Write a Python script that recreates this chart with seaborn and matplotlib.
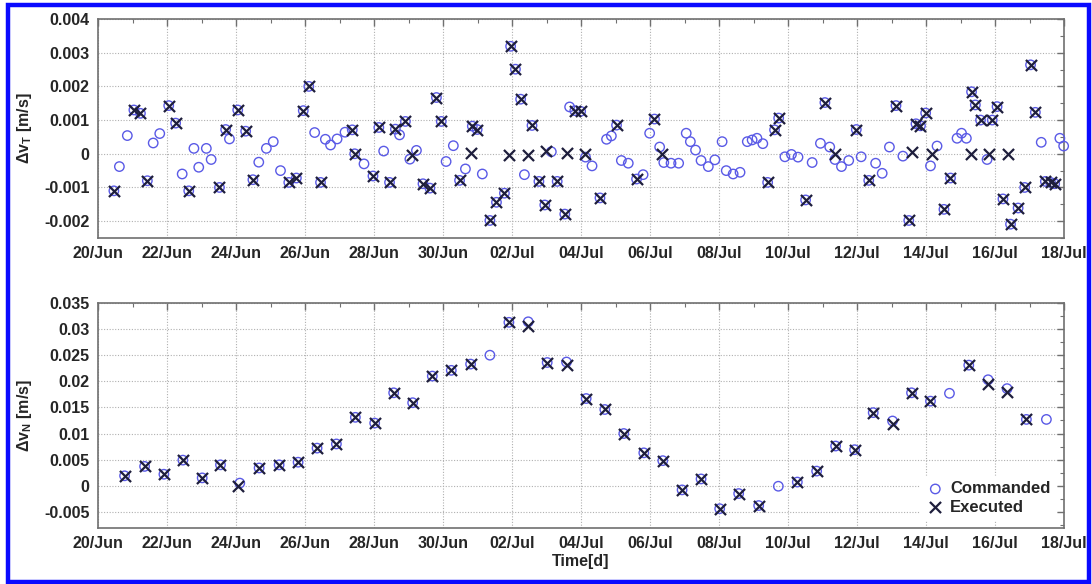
import numpy as np
import pandas as pd
import matplotlib
matplotlib.use("Agg")
import matplotlib.pyplot as plt
import matplotlib.dates as mdates
import matplotlib.ticker as mticker
from matplotlib.patches import Rectangle
import seaborn as sns

# ---------------- data (days since 20 Jun 00:00) ----------------
start_date = "2013-06-20"
end_date = "2013-07-18"

# Top panel: tangential delta-v [m/s]
exe_T_day = [0.46, 1.04, 1.23, 1.43, 2.05, 2.25, 2.63, 3.52, 3.70, 4.05, 4.28, 4.49,
             5.53, 5.75, 5.95, 6.11, 6.45, 7.37, 7.44, 7.97, 8.14, 8.45, 8.62, 8.91,
             9.11, 9.42, 9.62, 9.81, 9.95, 10.48, 10.80, 10.85, 10.99, 11.36, 11.55,
             11.78, 11.91, 11.96, 12.10, 12.25, 12.47, 12.58, 12.78, 12.95, 12.99,
             13.31, 13.53, 13.58, 13.82, 13.99, 14.13, 14.55, 15.03, 15.61, 16.13,
             16.35, 19.41, 19.61, 19.73, 20.51, 21.07, 21.36, 21.98, 22.34, 23.13,
             23.50, 23.60, 23.71, 23.84, 23.99, 24.16, 24.52, 24.71, 25.29, 25.32,
             25.43, 25.58, 25.82, 25.92, 26.06, 26.23, 26.37, 26.45, 26.67, 26.86,
             27.03, 27.17, 27.46, 27.61, 27.73]
exe_T_val = [-0.0011, 0.0013, 0.0012, -0.0008, 0.00143, 0.00091, -0.0011, -0.001, 0.00072,
             0.0013, 0.00067, -0.00077, -0.00085, -0.00072, 0.00128, 0.002, -0.00085,
             0.00071, 0.0, -0.00066, 0.00078, -0.00085, 0.00073, 0.00096, -0.00004,
             -0.00089, -0.00102, 0.00167, 0.00096, -0.00079, 0.00003, 0.00082, 0.00072,
             -0.00198, -0.00144, -0.00117, -0.00004, 0.00319, 0.00251, 0.00162, -0.00004,
             0.00084, -0.00082, -0.00152, 0.00008, -0.00082, -0.00179, 0.00001, 0.00128,
             0.00126, 0.0, -0.00131, 0.00085, -0.00075, 0.00103, -0.00001, -0.00085,
             0.00071, 0.00106, -0.00137, 0.00152, -0.00002, 0.00072, -0.00079, 0.00143,
             -0.00198, 0.00006, 0.00089, 0.00083, 0.00121, 0.0, -0.00165, -0.00072,
             -0.00002, 0.00184, 0.00145, 0.001, 0.0, 0.001, 0.0014, -0.00134, 0.0,
             -0.00209, -0.00161, -0.001, 0.00264, 0.00123, -0.00082, -0.00085, -0.00089]
# executed points that have no coincident commanded circle
exe_T_alone = [9.11, 10.80, 11.91, 12.47, 12.99, 13.58, 14.13, 16.35, 21.36, 23.60,
               24.16, 25.29, 25.82, 26.37]

cmd_T_only_day = [0.62, 0.85, 1.60, 1.79, 2.44, 2.78, 2.92, 3.14, 3.28, 3.81, 4.66, 4.88,
                  5.08, 5.29, 6.28, 6.59, 6.74, 6.93, 7.16, 7.71, 8.28, 8.74, 9.04, 9.23,
                  10.09, 10.30, 10.65, 11.14, 12.36, 13.14, 13.67, 14.13, 14.32, 14.74,
                  14.88, 15.17, 15.37, 15.80, 15.99, 16.28, 16.40, 16.61, 16.83, 17.05,
                  17.17, 17.32, 17.48, 17.69, 17.88, 18.09, 18.21, 18.41, 18.61, 18.82,
                  18.96, 19.10, 19.27, 19.91, 20.10, 20.29, 20.70, 20.94, 21.21, 21.36,
                  21.55, 21.76, 22.12, 22.54, 22.73, 22.94, 23.33, 24.13, 24.32, 24.90,
                  25.03, 25.17, 25.77, 27.34, 27.88, 27.99]
cmd_T_only_val = [-0.00038, 0.00054, 0.00032, 0.0006, -0.0006, 0.00016, -0.0004, 0.00016,
                  -0.00017, 0.00044, -0.00025, 0.00016, 0.00036, -0.0005, 0.00063, 0.00043,
                  0.00026, 0.00044, 0.00064, -0.0003, 0.00008, 0.00056, -0.00016, 0.0001,
                  -0.00023, 0.00024, -0.00045, -0.0006, -0.00062, 0.00006, 0.00139, -0.0001,
                  -0.00036, 0.00043, 0.00053, -0.0002, -0.00028, -0.00062, 0.00061, 0.0002,
                  -0.00026, -0.00028, -0.00028, 0.00061, 0.00036, 0.00011, -0.0002, -0.00038,
                  -0.00018, 0.00036, -0.0005, -0.0006, -0.00055, 0.00036, 0.00041, 0.00046,
                  0.0003, -0.00009, -0.00002, -0.0001, -0.00026, 0.00031, 0.0002, -0.00017,
                  -0.00038, -0.0002, -0.00009, -0.00028, -0.00058, 0.0002, -0.00007,
                  -0.00036, 0.00023, 0.00046, 0.00061, 0.00046, -0.00017, 0.00034, 0.00046,
                  0.00023]

# Bottom panel: normal delta-v [m/s]
cmd_N_day = [0.77, 1.35, 1.91, 2.46, 3.02, 3.55, 4.11, 4.67, 5.25, 5.80, 6.35, 6.91,
             7.46, 8.02, 8.57, 9.12, 9.69, 10.24, 10.80, 11.36, 11.91, 12.47, 13.02,
             13.58, 14.15, 14.69, 15.24, 15.82, 16.37, 16.93, 17.48, 18.02, 18.57,
             19.15, 19.72, 20.27, 20.83, 21.38, 21.93, 22.47, 23.03, 23.58, 24.13,
             24.68, 25.24, 25.80, 26.35, 26.91, 27.49]
cmd_N_val = [0.0019, 0.0037, 0.0022, 0.0049, 0.0015, 0.004, 0.0005, 0.0034, 0.004, 0.0045,
             0.0072, 0.008, 0.0131, 0.012, 0.0178, 0.0159, 0.021, 0.0221, 0.0233, 0.025,
             0.0313, 0.0314, 0.0236, 0.0237, 0.0167, 0.0146, 0.01, 0.0063, 0.0048,
             -0.0008, 0.0013, -0.0044, -0.0015, -0.0038, -0.0001, 0.0007, 0.0028,
             0.0076, 0.0069, 0.014, 0.0124, 0.0178, 0.0162, 0.0177, 0.0231, 0.0203,
             0.0186, 0.0127, 0.0127]
exe_N_day = [0.77, 1.35, 1.91, 2.46, 3.02, 3.55, 4.05, 4.67, 5.25, 5.80, 6.35, 6.91,
             7.46, 8.02, 8.57, 9.12, 9.69, 10.24, 10.80, 11.91, 12.47, 13.02, 13.58,
             14.15, 14.69, 15.24, 15.82, 16.37, 16.93, 17.48, 18.02, 18.57, 19.15,
             20.27, 20.83, 21.38, 21.93, 22.47, 23.03, 23.58, 24.13, 25.24, 25.80,
             26.35, 26.91]
exe_N_val = [0.0019, 0.0037, 0.0022, 0.0049, 0.0015, 0.004, 0.0, 0.0034, 0.004, 0.0045,
             0.0072, 0.008, 0.0131, 0.012, 0.0178, 0.0159, 0.021, 0.0221, 0.0233,
             0.0313, 0.0306, 0.0236, 0.0231, 0.0167, 0.0146, 0.01, 0.0063, 0.0048,
             -0.0008, 0.0013, -0.0044, -0.0015, -0.0038, 0.0007, 0.0028, 0.0076, 0.0069,
             0.014, 0.0119, 0.0178, 0.0162, 0.0231, 0.0194, 0.018, 0.0127]

top_yticks = [-0.002, -0.001, 0, 0.001, 0.002, 0.003, 0.004]
bot_yticks = [-0.005, 0, 0.005, 0.01, 0.015, 0.02, 0.025, 0.03, 0.035]
legend_labels = ["Commanded", "Executed"]

# ---------------- build frames ----------------
t0 = pd.Timestamp(start_date)


def to_time(days):
    return t0 + pd.to_timedelta(np.asarray(days, dtype=float), unit="D")


co_day = [d for d in exe_T_day if d not in exe_T_alone]
co_val = [v for d, v in zip(exe_T_day, exe_T_val) if d not in exe_T_alone]
cmd_T = pd.DataFrame({"time": to_time(list(cmd_T_only_day) + co_day),
                      "dv": list(cmd_T_only_val) + co_val})
exe_T = pd.DataFrame({"time": to_time(exe_T_day), "dv": exe_T_val})
cmd_N = pd.DataFrame({"time": to_time(cmd_N_day), "dv": cmd_N_val})
exe_N = pd.DataFrame({"time": to_time(exe_N_day), "dv": exe_N_val})

# ---------------- styling ----------------
sns.set_style("white")
plt.rcParams["font.family"] = ["Liberation Sans", "DejaVu Sans"]
plt.rcParams["font.weight"] = "bold"
plt.rcParams["mathtext.fontset"] = "custom"
plt.rcParams["mathtext.rm"] = "Liberation Sans:bold"
plt.rcParams["mathtext.bf"] = "Liberation Sans:bold"
plt.rcParams["mathtext.it"] = "Liberation Sans:bold"

circ_color = "#5a5ae6"
x_color = "#1e1e3c"

fig = plt.figure(figsize=(10.92, 5.84), dpi=100)
W, H = 1092, 584
ax1 = fig.add_axes([98 / W, 1 - 238 / H, (1064 - 98) / W, (238 - 19) / H])
ax2 = fig.add_axes([98 / W, 1 - 528 / H, (1064 - 98) / W, (528 - 303) / H])

for ax, cmd, exe in [(ax1, cmd_T, exe_T), (ax2, cmd_N, exe_N)]:
    sns.scatterplot(data=cmd, x="time", y="dv", ax=ax, marker="o", s=46,
                    facecolor="none", edgecolor=circ_color, linewidth=1.0,
                    label=legend_labels[0], zorder=3, clip_on=False)
    sns.scatterplot(data=exe, x="time", y="dv", ax=ax, marker="x", s=64,
                    color=x_color, linewidth=1.6, label=legend_labels[1],
                    zorder=4, clip_on=False)

majors = pd.date_range(start_date, end_date, freq="2D")
minors = pd.date_range(start_date, end_date, freq="1D")

for ax, yt, ylim, ystep in [(ax1, top_yticks, (-0.0025, 0.004), 0.0005),
                            (ax2, bot_yticks, (-0.0081, 0.035), 0.0025)]:
    ax.set_xlim(pd.Timestamp(start_date), pd.Timestamp(end_date))
    ax.set_ylim(*ylim)
    ax.xaxis.set_major_locator(mticker.FixedLocator(mdates.date2num(majors)))
    ax.xaxis.set_minor_locator(mticker.FixedLocator(mdates.date2num(minors)))
    ax.xaxis.set_major_formatter(mdates.DateFormatter("%d/%b"))
    ax.yaxis.set_major_locator(mticker.FixedLocator(yt))
    ax.yaxis.set_minor_locator(mticker.MultipleLocator(ystep))
    ax.yaxis.set_major_formatter(mticker.FuncFormatter(lambda v, p: "%g" % round(v, 6)))
    ax.tick_params(which="both", direction="in", top=True, right=True,
                   color="#707070")
    ax.tick_params(which="major", length=5, width=1, labelsize=11.5, pad=6)
    ax.tick_params(which="minor", length=3, width=0.8)
    for lab in ax.get_xticklabels() + ax.get_yticklabels():
        lab.set_fontweight("bold")
    ax.grid(True, which="major", linestyle=(0, (1, 1.5)), color="#b0b0b0", linewidth=0.8)
    for sp in ax.spines.values():
        sp.set_color("#707070")
        sp.set_linewidth(1.2)
    ax.set_xlabel("")

ax1.set_ylabel(r"$\Delta$v$_\mathregular{T}$ [m/s]", fontsize=11.5, fontweight="bold", labelpad=7)
ax2.set_ylabel(r"$\Delta$v$_\mathregular{N}$ [m/s]", fontsize=11.5, fontweight="bold", labelpad=7)
ax2.set_xlabel("Time[d]", fontsize=11.5, fontweight="bold", labelpad=2)

ax1.get_legend().remove()
leg = ax2.legend(loc="lower right", frameon=True, handletextpad=0.3,
                 borderpad=0.3, labelspacing=0.2, handlelength=1.2,
                 prop={"weight": "bold", "size": 12})
leg.get_frame().set_edgecolor("white")
leg.get_frame().set_facecolor("white")
leg.get_frame().set_alpha(1)

# blue frame around the figure
fig.patches.append(Rectangle((8 / W, 2.5 / H), (1088.5 - 8) / W, (579 - 2.5) / H,
                             transform=fig.transFigure, fill=False,
                             edgecolor="#0a0aff", linewidth=3.2, zorder=10))

fig.savefig("out.png", dpi=100)
